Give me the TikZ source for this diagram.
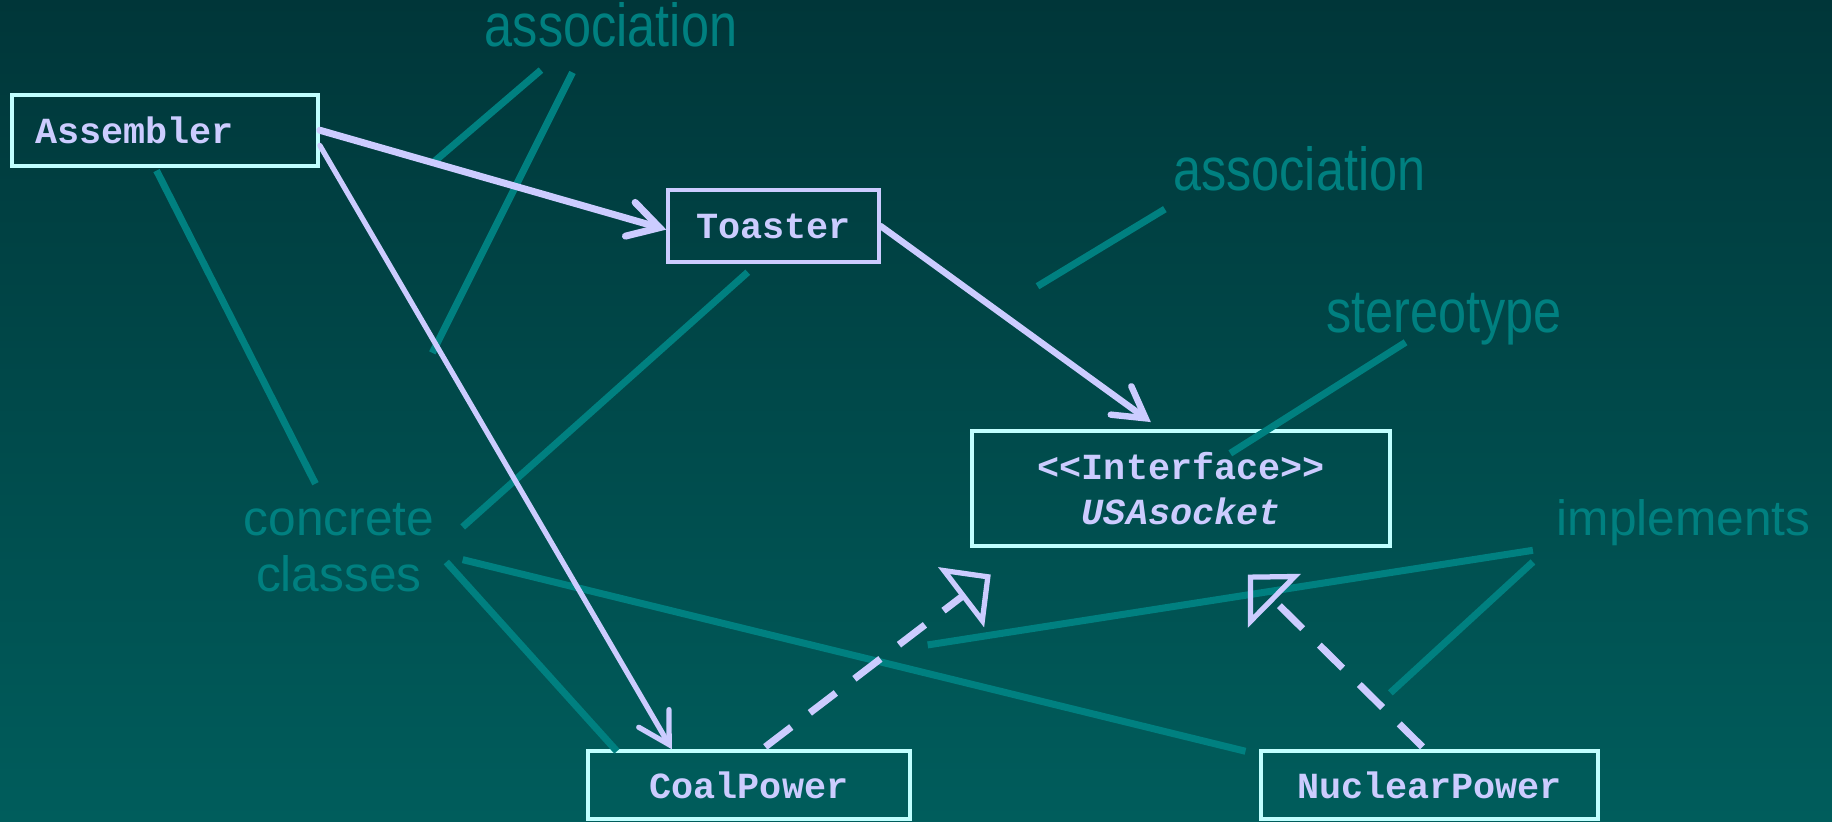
\documentclass[tikz,border=0pt]{standalone}
\usepackage{fontspec}
\setmainfont{Liberation Sans}
\setmonofont{Liberation Mono}
\newfontfamily\narrowsans[FakeStretch=0.83]{Liberation Sans}
\usetikzlibrary{arrows.meta,calc}
\definecolor{bgtop}{RGB}{0,54,57}
\definecolor{bgbot}{RGB}{0,93,92}
\definecolor{notecol}{RGB}{0,128,128}
\definecolor{lav}{RGB}{204,204,255}
\definecolor{edgecol}{RGB}{192,255,255}
\begin{document}
\begin{tikzpicture}[x=1pt,y=-1pt,
  cls/.style={draw=edgecol, line width=3.5pt, text=lav,
    font=\ttfamily\bfseries\fontsize{31.5}{38}\selectfont, inner sep=0pt},
  notetext/.style={text=notecol, font=\fontsize{42.5}{48}\selectfont, inner sep=0pt, anchor=base},
  notenarrow/.style={text=notecol, font=\narrowsans\fontsize{52}{60}\selectfont, inner sep=0pt, anchor=base},
  leader/.style={draw=notecol, line width=6pt},
  assoc/.style={draw=lav, line cap=round,
    -{Straight Barb[length=26pt,width=30pt,line cap=round]}},
  realize/.style={draw=lav, line width=6pt, dash pattern=on 28pt off 20pt,
    -{Triangle[open, length=32pt, width=64pt, line width=4.5pt]}}
]
% backdrop
\shade[top color=bgtop, bottom color=bgbot] (0,0) rectangle (1568,703);
\useasboundingbox (0,0) rectangle (1568,703);

% classes
\node[cls, minimum width=262pt, minimum height=61pt, text width=222pt, align=left]
  (asm) at (141,111.5) {Assembler};
\node[cls, draw=lav, minimum width=180pt, minimum height=61pt] (toa) at (662,193.5) {Toaster};
\node[cls, minimum width=358pt, minimum height=98pt, align=center] (ifc) at (1011,418)
  {<<Interface>>\\\itshape USAsocket};
\node[cls, minimum width=276pt, minimum height=58pt] (coal) at (641,672) {CoalPower};
\node[cls, minimum width=289pt, minimum height=58pt] (nuc) at (1223.5,672) {NuclearPower};

% annotation labels
\node[notenarrow] (lassoc1) at (523,40) {association};
\node[notenarrow] (lassoc2) at (1112,163) {association};
\node[notenarrow] (lstereo) at (1236,285) {stereotype};
\node[notetext] (lconc1) at (290,458) {concrete};
\node[notetext] (lconc2) at (290,506) {classes};
\node[notetext] (limpl) at (1441,458) {implements};

% leader line end points
\coordinate (a1s) at (463,60);   \coordinate (a1e) at (372,138);
\coordinate (a2s) at (490,62);   \coordinate (a2e) at (370,302);
\coordinate (a3s) at (997,179);  \coordinate (a3e) at (888,245);
\coordinate (s1s) at (1203,293); \coordinate (s1e) at (1053,388);
\coordinate (c1s) at (270,414);  \coordinate (c1e) at (134,146);
\coordinate (c2s) at (396,451);  \coordinate (c2e) at (640,233);
\coordinate (c3s) at (382,481);  \coordinate (c3e) at (528,643);
\coordinate (c4s) at (396,479);  \coordinate (c4e) at (1066,643);
\coordinate (i1s) at (1312,471); \coordinate (i1e) at (794,552);
\coordinate (i2s) at (1312,481); \coordinate (i2e) at (1190,593);

% leader lines
\foreach \p in {a1,a2,a3,s1,c1,c2,c3,c4,i1,i2}
  \draw[leader] (\p s) -- (\p e);

% associations
\draw[assoc, line width=6pt] (asm.east) -- ([yshift=-3pt]toa.west);
\draw[assoc, line width=4.5pt] ([yshift=-13pt]asm.east) -- ([xshift=-66pt]coal.north);
\draw[assoc, line width=5.5pt] (toa.east) -- ([xshift=-26pt,yshift=6pt]ifc.north);

% realizations
\draw[realize] ([xshift=14pt,yshift=2pt]coal.north) -- ([xshift=-163pt,yshift=-23pt]ifc.south);
\draw[realize] ([xshift=-6pt,yshift=2pt]nuc.north) -- ([xshift=57pt,yshift=-23pt]ifc.south);
\end{tikzpicture}
\end{document}
